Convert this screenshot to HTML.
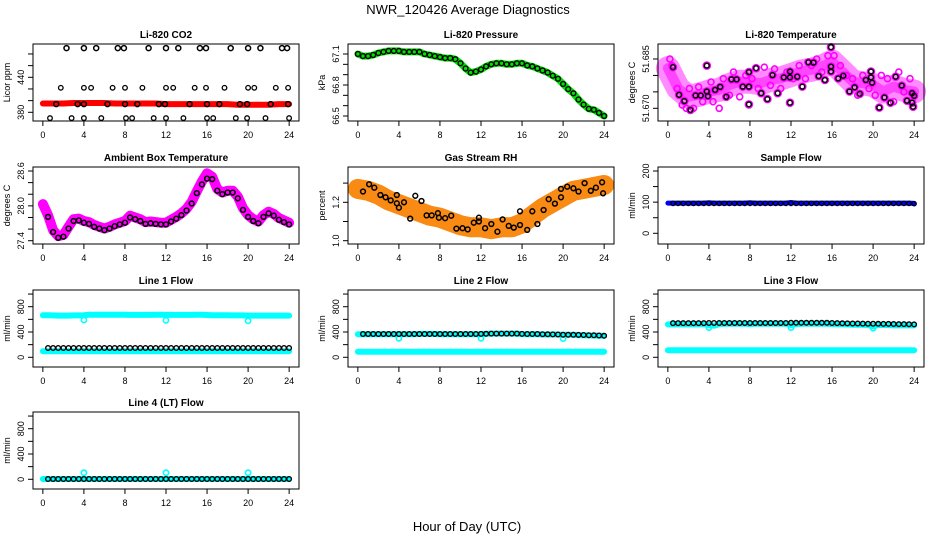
<!DOCTYPE html>
<html><head><meta charset="utf-8">
<style>
html,body{margin:0;padding:0;background:#fff;}
svg{display:block;font-family:"Liberation Sans",sans-serif;}
</style></head>
<body>
<svg id="fig" width="936" height="540" viewBox="0 0 936 540" xmlns="http://www.w3.org/2000/svg">
<text x="468" y="14" text-anchor="middle" font-size="13">NWR_120426  Average Diagnostics</text>
<text x="467" y="531" text-anchor="middle" font-size="13">Hour of Day (UTC)</text>
</svg>
<script>
// ---- data ----
const HOURS = [0,0.5,1,1.5,2,2.5,3,3.5,4,4.5,5,5.5,6,6.5,7,7.5,8,8.5,9,9.5,10,10.5,11,11.5,12,12.5,13,13.5,14,14.5,15,15.5,16,16.5,17,17.5,18,18.5,19,19.5,20,20.5,21,21.5,22,22.5,23,23.5,24];
const HOURS25 = [0,1,2,3,4,5,6,7,8,9,10,11,12,13,14,15,16,17,18,19,20,21,22,23,24];
const X_TICKS = [0,4,8,12,16,20,24];

// CO2
const co2RedBand = [395,395,395,396,396,396,396,395,395,395,395,395,394,394,394,394,394,394,394,393,393,393,393,394,394];
const co2TopHours = [2.3,4.0,5.2,7.3,7.9,10.3,12.0,13.2,15.3,15.9,18.3,20.0,21.2,23.3,23.8];
const co2TopVals = [490,490,490,490,490,490,490,490,490,490,490,490,490,490,490];
const co2MidHours = [1.75,4.0,4.7,6.8,8.0,9.7,12.0,12.7,14.8,15.9,17.7,20.0,20.6,22.7,23.9];
const co2MidVals = [422,422,422,422,422,422,422,422,422,422,422,422,422,422,422];
const co2LowHours = [0.7,2.8,4.0,5.7,8.1,8.7,10.8,12.0,13.7,16.0,16.6,18.8,19.9,21.7,24.0];
const co2LowVals = [370,370,370,370,370,370,370,370,370,370,370,370,370,370,370];
const co2BandHours = [1.3,3.4,4.0,6.3,8.0,9.2,11.3,11.9,14.3,16.0,17.2,19.2,19.9,22.2,23.9];
const co2BandVals = [394,394,394,394,394,394,394,394,394,394,394,394,394,394,394];

// Pressure
const pressureVals = [67.10,67.08,67.08,67.09,67.11,67.12,67.13,67.13,67.13,67.12,67.12,67.12,67.12,67.10,67.09,67.08,67.07,67.06,67.06,67.05,67.01,66.96,66.92,66.93,66.95,66.98,67.00,67.01,67.01,67.00,67.00,67.01,67.01,66.99,66.98,66.96,66.94,66.92,66.89,66.86,66.81,66.76,66.72,66.66,66.61,66.57,66.56,66.53,66.50];

// Li-820 temperature
const tempBand = [51.6822,51.6761,51.6735,51.6741,51.6751,51.6756,51.6771,51.6781,51.6781,51.6776,51.6786,51.6791,51.6801,51.6812,51.6817,51.6827,51.6842,51.6812,51.6781,51.6776,51.6771,51.6751,51.6766,51.6756,51.6751];
const tempPtHours = [0.5,1.1,1.6,2.2,2.7,3.2,3.8,3.8,3.9,4.6,5.1,5.7,6.2,6.7,7.3,7.9,7.9,7.9,8.6,9.1,9.7,10.2,10.7,11.3,11.9,11.9,11.9,12.6,13.1,13.7,14.2,14.7,15.3,15.9,15.9,15.9,16.6,17.1,17.7,18.2,18.7,19.3,19.8,19.8,19.9,20.6,21.1,21.7,22.2,22.8,23.3,23.8,23.8,23.9,24.0];
const tempPtVals = [51.6825,51.6741,51.6722,51.6695,51.6739,51.6739,51.6751,51.6830,51.6737,51.6756,51.6765,51.6735,51.6788,51.6788,51.6766,51.6766,51.6810,51.6712,51.6822,51.6746,51.6728,51.6801,51.6746,51.6794,51.6812,51.6717,51.6794,51.6796,51.6766,51.6840,51.6839,51.6798,51.6786,51.6812,51.6827,51.6886,51.6791,51.6799,51.6751,51.6764,51.6744,51.6786,51.6812,51.6794,51.6778,51.6702,51.6733,51.6717,51.6796,51.6769,51.6723,51.6746,51.6717,51.6705,51.6738];
const tempMagHours = [0.2,0.4,0.9,1.4,1.8,2.1,2.5,3.0,3.4,4.2,4.4,5.0,5.4,6.0,6.4,7.0,7.6,8.2,8.8,9.4,10.0,10.4,11.0,11.6,12.2,12.8,13.4,14.0,14.5,15.0,15.6,16.2,16.8,17.4,18.0,18.5,19.0,19.6,20.2,20.8,21.4,22.0,22.5,23.0,23.6];
const tempMagVals = [51.6850,51.6830,51.6760,51.6710,51.6700,51.6760,51.6700,51.6765,51.6720,51.6780,51.6720,51.6700,51.6790,51.6740,51.6810,51.6735,51.6800,51.6790,51.6760,51.6825,51.6770,51.6820,51.6760,51.6810,51.6790,51.6830,51.6790,51.6830,51.6850,51.6810,51.6860,51.6860,51.6830,51.6800,51.6790,51.6740,51.6800,51.6760,51.6740,51.6800,51.6790,51.6720,51.6810,51.6750,51.6790];

// Ambient box temperature
const ambientBand = [28.03,27.84,27.58,27.48,27.50,27.64,27.77,27.78,27.74,27.72,27.67,27.64,27.61,27.64,27.68,27.71,27.74,27.83,27.80,27.77,27.72,27.73,27.72,27.71,27.71,27.76,27.81,27.87,27.95,28.07,28.25,28.42,28.56,28.50,28.29,28.23,28.26,28.26,28.16,27.96,27.84,27.77,27.73,27.84,27.90,27.86,27.79,27.75,27.71];
const ambientVals = [null,27.81,27.55,27.45,27.47,27.61,27.74,27.75,27.71,27.69,27.64,27.61,27.58,27.61,27.65,27.68,27.71,27.80,27.77,27.74,27.69,27.70,27.69,27.68,27.68,27.73,27.78,27.84,27.92,28.04,28.22,28.37,28.47,28.46,28.26,28.20,28.23,28.23,28.13,27.93,27.81,27.74,27.70,27.81,27.87,27.83,27.76,27.72,27.68];

// Gas stream RH
const rhBand = [1.27,1.26,1.24,1.21,1.19,1.17,1.15,1.13,1.12,1.10,1.08,1.07,1.07,1.06,1.07,1.07,1.09,1.13,1.17,1.20,1.23,1.26,1.27,1.28,1.29];
const rhPtHours = [0.5,1.1,1.6,2.2,2.7,3.2,3.8,3.8,4.0,4.5,5.1,5.6,6.2,6.7,7.2,7.8,7.9,8.5,9.1,9.6,10.2,10.7,11.3,11.8,11.8,12.4,13.0,13.6,14.1,14.7,15.2,15.8,15.8,16.5,17.0,17.5,18.1,18.6,19.2,19.8,19.8,20.4,21.0,21.5,22.1,22.7,23.2,23.8,23.9];
const rhPtVals = [1.256,1.294,1.276,1.238,1.226,1.210,1.195,1.238,1.172,1.200,1.115,1.234,1.207,1.132,1.132,1.143,1.120,1.117,1.130,1.063,1.065,1.059,1.094,1.120,1.100,1.065,1.087,1.047,1.111,1.077,1.068,1.153,1.082,1.056,1.153,1.087,1.160,1.216,1.193,1.270,1.226,1.281,1.273,1.256,1.300,1.260,1.276,1.304,1.247];

// Sample flow
const sampleBlue = [97,97,97,97,97,97,97,97,98,97,97,97,97,97,97,97,98,97,97,97,97,97,97,97,99,97,97,97,97,97,97,97,97,97,97,97,97,97,97,97,97,97,97,97,97,97,97,97,96];
const sampleBlack = [null,96,96,96,96,96,96,96,96,96,96,96,96,96,96,96,96,96,96,96,96,96,96,96,96,96,96,96,96,96,96,96,96,96,96,96,96,96,96,96,96,96,96,96,96,96,96,96,95];

// Line flows
const line1CyanTop = [665,665,662,660,660,660,662,662,665,672,672,672,672,672,672,672,672,670,670,670,670,670,672,672,670,670,670,670,670,670,672,672,668,665,665,665,665,662,662,662,660,660,660,660,660,660,660,660,660];
const line1CyanBottom = [95,95,95,95,95,95,95,95,95,95,95,95,95,95,95,95,95,95,95,95,95,95,95,95,95,95,95,95,95,95,95,95,95,95,95,95,95,95,95,95,95,95,95,95,95,95,95,95,95];
const line1Black = [null,147,147,147,147,147,147,147,147,147,147,147,147,147,147,147,147,147,147,147,147,147,147,147,147,147,147,147,147,147,147,147,147,147,147,147,147,147,147,147,147,147,147,147,147,147,147,147,147];
const dipHours = [4,12,20];
const line1Dips = [590,585,575];

const line2CyanTop = [365,365,365,365,365,365,365,365,365,365,365,365,370,370,370,370,365,365,365,365,365,365,365,365,365,370,375,375,375,375,375,375,365,365,365,365,360,360,360,360,355,355,355,350,350,345,345,340,340];
const line2CyanBottom = [88,88,88,88,88,88,88,88,88,88,88,88,88,88,88,88,88,88,88,88,88,88,88,88,88,88,88,88,88,88,88,88,88,88,88,88,88,88,88,88,88,88,88,88,88,88,88,88,88];
const line2Black = [null,368,368,368,368,368,368,368,368,368,368,368,368,368,368,368,368,368,368,368,368,368,368,368,370,372,374,375,375,375,375,375,370,368,368,368,366,364,362,360,358,356,355,354,352,350,348,345,340];
const line2Dips = [300,300,295];

const line3CyanTop = [520,520,520,520,520,520,520,525,510,500,525,530,530,530,530,530,525,530,530,530,530,530,530,530,510,525,530,530,530,530,530,530,525,525,520,520,515,515,515,510,490,510,510,510,505,505,505,505,505];
const line3CyanBottom = [110,110,110,110,110,110,110,110,110,110,110,110,110,110,110,110,110,110,110,110,110,110,110,110,110,110,110,110,110,110,110,110,110,110,110,110,110,110,110,110,110,110,110,110,110,110,110,110,110];
const line3Black = [null,540,540,540,540,540,540,540,542,542,542,542,542,542,542,542,542,542,542,542,542,542,542,542,545,545,545,545,545,545,545,545,542,540,538,536,535,534,533,532,530,530,528,528,526,525,525,523,520];
const line3Dips = [470,470,460];

const line4Cyan = [5,5,5,5,5,5,5,5,5,5,5,5,5,5,5,5,5,5,5,5,5,5,5,5,5,5,5,5,5,5,5,5,5,5,5,5,5,5,5,5,5,5,5,5,5,5,5,5,5];
const line4Black = [null,5,5,5,5,5,5,5,5,5,5,5,5,5,5,5,5,5,5,5,5,5,5,5,5,5,5,5,5,5,5,5,5,5,5,5,5,5,5,5,5,5,5,5,5,5,5,5,5];
const line4Spikes = [105,105,105];

// ---- drawing ----
const NS = 'http://www.w3.org/2000/svg';
const svg = document.getElementById('fig');
function mk(tag, attrs, parent){
  const e = document.createElementNS(NS, tag);
  for (const k in attrs) e.setAttribute(k, attrs[k]);
  (parent||svg).appendChild(e);
  return e;
}
const COLS = [33, 348, 658];
const ROWS = [44, 167, 290, 412];
const W = 266, H = 77;

function panel(col, row, title, ylab, v0, y0, v1, y1, ticks, labels, name, dec){
  const g = mk('g', {});
  
  
  const L = COLS[col], T = ROWS[row];
  const xs = h => L + (h + 0.96) / 25.92 * W;
  const ys = v => y0 + (v - v0) * (y1 - y0) / (v1 - v0);
  const plot = mk('g', {}, g);
  
  
  const t = mk('text', {x: L + W/2, y: T - 6, 'text-anchor': 'middle', 'font-size': 10, 'font-weight': 'bold'}, g);
  t.textContent = title;
  
  
  const xa = mk('g', {stroke: '#000', 'stroke-width': 1}, g);
  
  
  mk('line', {x1: xs(0), x2: xs(24), y1: T + H, y2: T + H}, xa);
  X_TICKS.forEach(h => {
    mk('line', {x1: xs(h), x2: xs(h), y1: T + H, y2: T + H + 5}, xa);
    const tl = mk('text', {x: xs(h), y: T + H + 17, 'text-anchor': 'middle', 'font-size': 9, stroke: 'none'}, xa);
    tl.textContent = h;
    
    
  });
  const ya = mk('g', {stroke: '#000', 'stroke-width': 1}, g);
  
  
  mk('line', {x1: L, x2: L, y1: ys(ticks[0]), y2: ys(ticks[ticks.length-1])}, ya);
  ticks.forEach(v => mk('line', {x1: L - 5, x2: L, y1: ys(v), y2: ys(v)}, ya));
  labels.forEach(v => {
    const yy = ys(v);
    const tl = mk('text', {x: L - 9, y: yy, 'text-anchor': 'middle', 'font-size': 9, stroke: 'none', transform: `rotate(-90 ${L-9} ${yy})`}, ya);
    tl.textContent = v.toFixed(dec || 0);
    
    
  });
  const yl = mk('text', {x: L - 23, y: T + H/2, 'text-anchor': 'middle', 'font-size': 9, transform: `rotate(-90 ${L-23} ${T+H/2})`}, g);
  yl.textContent = ylab;
  
  
  const box = mk('rect', {x: L, y: T, width: W, height: H, fill: 'none', stroke: '#000', 'stroke-width': 1}, g);
  
  
  return {g: plot, xs, ys};
}
function band(p, hours, vals, color, width, opacity, nm, dash){
  let d = '';
  hours.forEach((h, i) => { if (vals[i] == null) return; d += (d ? 'L' : 'M') + p.xs(h).toFixed(1) + ',' + p.ys(vals[i]).toFixed(1); });
  const a = {d, fill: 'none', stroke: color, 'stroke-width': width, 'stroke-linecap': 'round', 'stroke-linejoin': 'round', opacity: opacity == null ? 1 : opacity};
  if (dash) a['stroke-dasharray'] = dash;
  const e = mk('path', a, p.g);
  
  
}
function pts(p, hours, vals, color, r, sw, nm){
  hours.forEach((h, i) => {
    if (vals[i] == null) return;
    const c = mk('circle', {cx: p.xs(h).toFixed(1), cy: p.ys(vals[i]).toFixed(1), r, fill: 'none', stroke: color, 'stroke-width': sw}, p.g);
    
    
  });
}

// Li-820 CO2
let p = panel(0, 0, 'Li-820 CO2', 'Licor ppm', 380, 112.3, 440, 77.3, [380,400,420,440,460,480], [380,440], 'co2', 0);
band(p, HOURS25, co2RedBand, '#ff0000', 6, 1, 'co2-red-series');
pts(p, co2TopHours, co2TopVals, '#000', 2.5, 1.5, 'co2-point');
pts(p, co2MidHours, co2MidVals, '#000', 2.3, 1.3, 'co2-point');
pts(p, co2LowHours, co2LowVals, '#000', 2.3, 1.3, 'co2-point');
pts(p, co2BandHours, co2BandVals, '#000', 2.5, 1.5, 'co2-point');

// Pressure
p = panel(1, 0, 'Li-820 Pressure', 'kPa', 67.1, 54, 66.5, 116, [66.5,66.6,66.7,66.8,66.9,67.0,67.1], [66.5,66.8,67.1], 'pressure', 1);
band(p, HOURS, pressureVals, '#00e000', 7, 1, 'pressure-green-series');
pts(p, HOURS, pressureVals, '#000', 2.4, 1.4, 'pressure-point');

// Li-820 Temperature
p = panel(2, 0, 'Li-820 Temperature', 'degrees C', 51.670, 108.3, 51.685, 59, [51.670,51.675,51.680,51.685], [51.670,51.685], 'li820-temp', 3);
band(p, HOURS25, tempBand, '#ff00ff', 24, 0.45, 'temp-magenta-series');
band(p, HOURS25, tempBand, '#ff00ff', 10, 0.5, 'temp-magenta-core');
pts(p, tempMagHours, tempMagVals, '#ff00ff', 3, 1.6, 'temp-magenta-point');
pts(p, tempPtHours, tempPtVals, '#ff00ff', 3.6, 1.4, 'temp-magenta-point');
pts(p, tempPtHours, tempPtVals, '#000', 2.4, 1.5, 'temp-point');

// Ambient
p = panel(0, 1, 'Ambient Box Temperature', 'degrees C', 28.6, 171, 27.4, 240.7, [27.4,27.6,27.8,28.0,28.2,28.4,28.6], [27.4,28.0,28.6], 'ambient', 1);
band(p, HOURS, ambientBand, '#ff00ff', 10, 1, 'ambient-magenta-series');
pts(p, HOURS, ambientVals, '#000', 2.4, 1.5, 'ambient-point');

// Gas Stream RH
p = panel(1, 1, 'Gas Stream RH', 'percent', 1.2, 202.3, 1.0, 240.7, [1.0,1.1,1.2,1.3], [1.0,1.2], 'rh', 1);
band(p, HOURS25, rhBand, '#f7a81a', 20, 1, 'rh-orange-series');
band(p, HOURS25, rhBand, '#ff3000', 20, 0.25, 'rh-red-texture', '1 2');
pts(p, rhPtHours, rhPtVals, '#000', 2.4, 1.5, 'rh-point');

// Sample flow
p = panel(2, 1, 'Sample Flow', 'ml/min', 0, 233.3, 200, 171, [0,50,100,150,200], [0,100,200], 'sample-flow', 0);
band(p, HOURS, sampleBlue, '#0000ff', 5, 1, 'sample-blue-series');
pts(p, HOURS, sampleBlack, '#000', 2.2, 1.2, 'sample-point');

const FT = [0,200,400,600,800,1000], FL = [0,400,800];
function flowPanel(col, row, title, name, cyanTop, cyanBottom, black, dips){
  const fp = panel(col, row, title, 'ml/min', 0, ROWS[row] + 67.3, 800, ROWS[row] + 16.7, FT, FL, name, 0);
  if (cyanTop) band(fp, HOURS, cyanTop, '#00ffff', 6, 1, name + '-cyan-series');
  band(fp, HOURS, cyanBottom, '#00ffff', 6, 1, name + '-cyan-low-series');
  if (dips) pts(fp, dipHours, dips, '#00ffff', 2.6, 1.6, name + '-cyan-point');
  pts(fp, HOURS, black, '#000', 2.3, 1.4, name + '-point');
  return fp;
}
flowPanel(0, 2, 'Line 1 Flow', 'line1-flow', line1CyanTop, line1CyanBottom, line1Black, line1Dips);
flowPanel(1, 2, 'Line 2 Flow', 'line2-flow', line2CyanTop, line2CyanBottom, line2Black, line2Dips);
flowPanel(2, 2, 'Line 3 Flow', 'line3-flow', line3CyanTop, line3CyanBottom, line3Black, line3Dips);
flowPanel(0, 3, 'Line 4 (LT) Flow', 'line4-flow', null, line4Cyan, line4Black, line4Spikes);
</script>
</body></html>
